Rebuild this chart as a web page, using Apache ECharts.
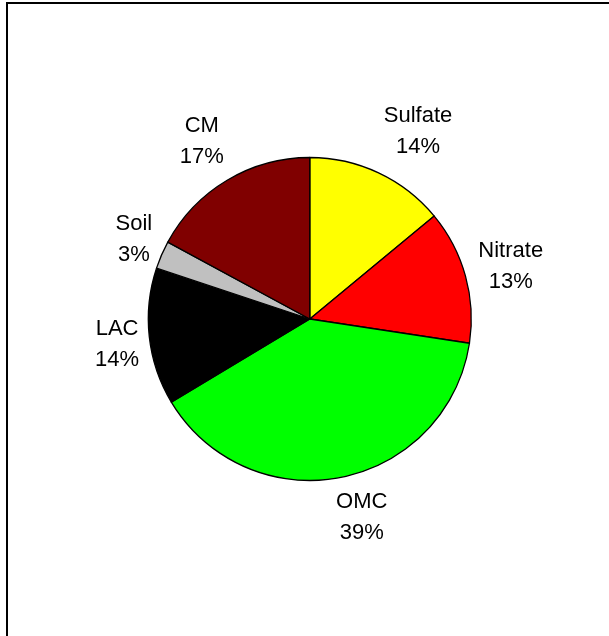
<!DOCTYPE html>
<html>
<head>
<meta charset="utf-8">
<script src="https://cdn.jsdelivr.net/npm/echarts@6/dist/echarts.min.js"></script>
<style>
  html, body { margin: 0; padding: 0; background: #fff; }
  #frame { position: absolute; left: 6px; top: 2px; width: 603px; height: 634px;
           border-left: 2px solid #000; border-top: 2px solid #000; box-sizing: border-box; }
  #chart { position: absolute; left: 0; top: 0; width: 609px; height: 636px; }
</style>
</head>
<body>
<div id="frame"></div>
<div id="chart"></div>
<script>
const categories = ['Sulfate', 'Nitrate', 'OMC', 'LAC', 'Soil', 'CM'];
const shares = [14.0, 13.4, 39.0, 13.7, 2.8, 17.1];
const colors = ['#FFFF00', '#FF0000', '#00FF00', '#000000', '#C0C0C0', '#800000'];

const chart = echarts.init(document.getElementById('chart'), null, { renderer: 'canvas' });

function placeLabel(p) {
  const pts = p.labelLinePoints;
  if (!pts || pts.length < 2) return { align: 'center', verticalAlign: 'middle' };
  const ex = pts[1][0] - pts[0][0], ey = pts[1][1] - pts[0][1];
  const len = Math.sqrt(ex * ex + ey * ey) || 1;
  const ux = ex / len, uy = ey / len;
  const hw = p.labelRect.width / 2, hh = p.labelRect.height / 2;
  const fx = Math.max(-1, Math.min(1, 3.5 * ux)) * 0.92;
  return {
    x: pts[1][0] + hw * fx + 2,
    y: pts[1][1] + hh * uy * 0.95 + 3 - 6 * uy * uy,
    align: 'center',
    verticalAlign: 'middle'
  };
}

chart.setOption({
  animation: false,
  backgroundColor: 'transparent',
  series: [{
    type: 'pie',
    center: [309.8, 319],
    radius: 161.5,
    startAngle: 90,
    clockwise: true,
    avoidLabelOverlap: false,
    percentPrecision: 0,
    silent: true,
    data: categories.map((c, i) => ({
      name: c,
      value: shares[i],
      itemStyle: { color: colors[i] }
    })),
    itemStyle: { borderColor: '#000', borderWidth: 1.3 },
    label: {
      show: true,
      position: 'outside',
      formatter: '{b}\n{d}%',
      fontFamily: 'Liberation Sans, Arial, sans-serif',
      fontSize: 22,
      lineHeight: 31,
      color: '#000'
    },
    labelLine: {
      show: true,
      length: 14,
      length2: 0,
      lineStyle: { opacity: 0, width: 0 }
    },
    labelLayout: placeLabel,
    emphasis: { disabled: true }
  }]
});
</script>
</body>
</html>
